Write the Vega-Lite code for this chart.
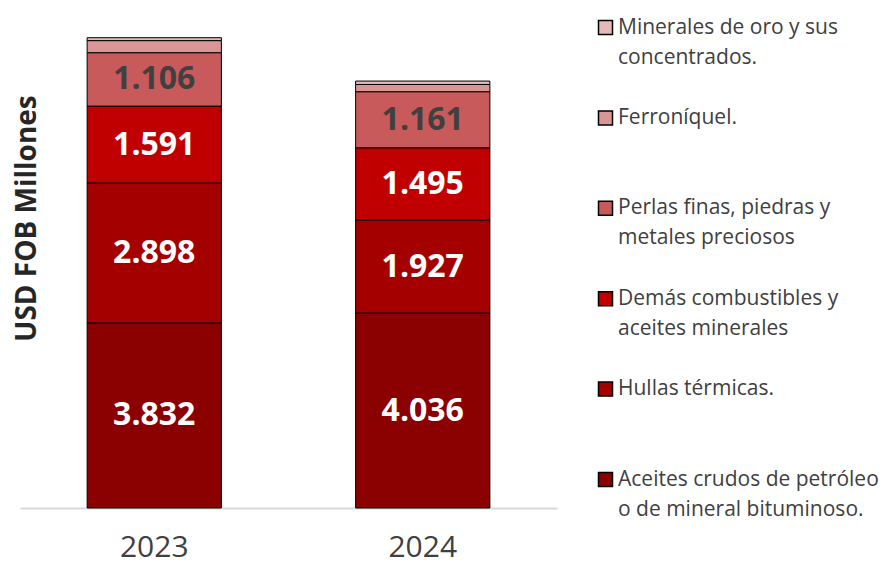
{
  "$schema": "https://vega.github.io/schema/vega-lite/v6.json",
  "width": 537,
  "height": 483,
  "autosize": "none",
  "padding": {"left": 20, "top": 25, "right": 327, "bottom": 57},
  "background": "white",
  "config": {
    "font": "Open Sans",
    "view": {"stroke": null},
    "locale": {"number": {"decimal": ",", "thousands": ".", "grouping": [3], "currency": ["$", ""]}}
  },
  "data": {
    "values": [
      {"anio": "2023", "categoria": "Aceites crudos de petróleo o de mineral bituminoso.", "valor": 3832, "orden": 1},
      {"anio": "2023", "categoria": "Hullas térmicas.", "valor": 2898, "orden": 2},
      {"anio": "2023", "categoria": "Demás combustibles y aceites minerales", "valor": 1591, "orden": 3},
      {"anio": "2023", "categoria": "Perlas finas, piedras y metales preciosos", "valor": 1106, "orden": 4},
      {"anio": "2023", "categoria": "Ferroníquel.", "valor": 250, "orden": 5},
      {"anio": "2023", "categoria": "Minerales de oro y sus concentrados.", "valor": 60, "orden": 6},
      {"anio": "2024", "categoria": "Aceites crudos de petróleo o de mineral bituminoso.", "valor": 4036, "orden": 1},
      {"anio": "2024", "categoria": "Hullas térmicas.", "valor": 1927, "orden": 2},
      {"anio": "2024", "categoria": "Demás combustibles y aceites minerales", "valor": 1495, "orden": 3},
      {"anio": "2024", "categoria": "Perlas finas, piedras y metales preciosos", "valor": 1161, "orden": 4},
      {"anio": "2024", "categoria": "Ferroníquel.", "valor": 150, "orden": 5},
      {"anio": "2024", "categoria": "Minerales de oro y sus concentrados.", "valor": 70, "orden": 6}
    ]
  },
  "transform": [
    {"stack": "valor", "groupby": ["anio"], "sort": [{"field": "orden", "order": "ascending"}], "as": ["y0", "y1"]},
    {"calculate": "(datum.y0 + datum.y1) / 2", "as": "ymid"}
  ],
  "encoding": {
    "x": {
      "field": "anio", "type": "nominal", "title": null,
      "scale": {"paddingInner": 0.5, "paddingOuter": 0.25},
      "axis": {"labelAngle": 0, "labelFontSize": 30, "labelColor": "#404040", "labelPadding": 24, "ticks": false, "domainColor": "#d9d9d9", "domainWidth": 2, "labelFont": "Open Sans"}
    }
  },
  "layer": [
    {
      "mark": {"type": "bar", "stroke": "#000000", "strokeWidth": 1},
      "encoding": {
        "y": {
          "field": "y0", "type": "quantitative",
          "scale": {"domain": [0, 10000]},
          "title": "USD FOB Millones",
          "axis": {"labels": false, "ticks": false, "domain": false, "grid": false, "titleFontSize": 28, "titleFontWeight": "bold", "titleColor": "#262626", "titleAngle": -90, "titleX": 7, "titleY": 193, "titleAlign": "center", "titleBaseline": "middle"}
        },
        "y2": {"field": "y1"},
        "color": {
          "field": "categoria", "type": "nominal",
          "scale": {
            "domain": ["Minerales de oro y sus concentrados.", "Ferroníquel.", "Perlas finas, piedras y metales preciosos", "Demás combustibles y aceites minerales", "Hullas térmicas.", "Aceites crudos de petróleo o de mineral bituminoso."],
            "range": ["#E6B9B8", "#D99694", "#C95A5C", "#C00000", "#A50000", "#8B0000"]
          },
          "legend": {
            "title": null,
            "orient": "none",
            "legendX": 575,
            "legendY": -8,
            "symbolType": "square",
            "symbolSize": 196,
            "symbolStrokeColor": "#000000",
            "symbolStrokeWidth": 1.5,
            "labelFontSize": 21,
            "labelColor": "#404040",
            "labelOffset": 2,
            "labelLimit": 400,
            "rowPadding": 38.4,
            "padding": 0,
            "labelExpr": "datum.label == 'Minerales de oro y sus concentrados.' ? ['Minerales de oro y sus', 'concentrados.'] : datum.label == 'Perlas finas, piedras y metales preciosos' ? ['Perlas finas, piedras y', 'metales preciosos'] : datum.label == 'Demás combustibles y aceites minerales' ? ['Demás combustibles y', 'aceites minerales'] : datum.label == 'Aceites crudos de petróleo o de mineral bituminoso.' ? ['Aceites crudos de petróleo', 'o de mineral bituminoso.'] : [datum.label, ' ']",
            "encode": {"labels": {"update": {"lineHeight": {"value": 30}}}}
          }
        }
      }
    },
    {
      "transform": [{"filter": "datum.valor > 500"}],
      "mark": {"type": "text", "fontSize": 32, "fontWeight": "bold", "font": "Open Sans"},
      "encoding": {
        "y": {"field": "ymid", "type": "quantitative"},
        "text": {"field": "valor", "type": "quantitative", "format": ",d"},
        "color": {
          "condition": {"test": "datum.orden == 4", "value": "#404040"},
          "value": "#ffffff"
        }
      }
    }
  ]
}
